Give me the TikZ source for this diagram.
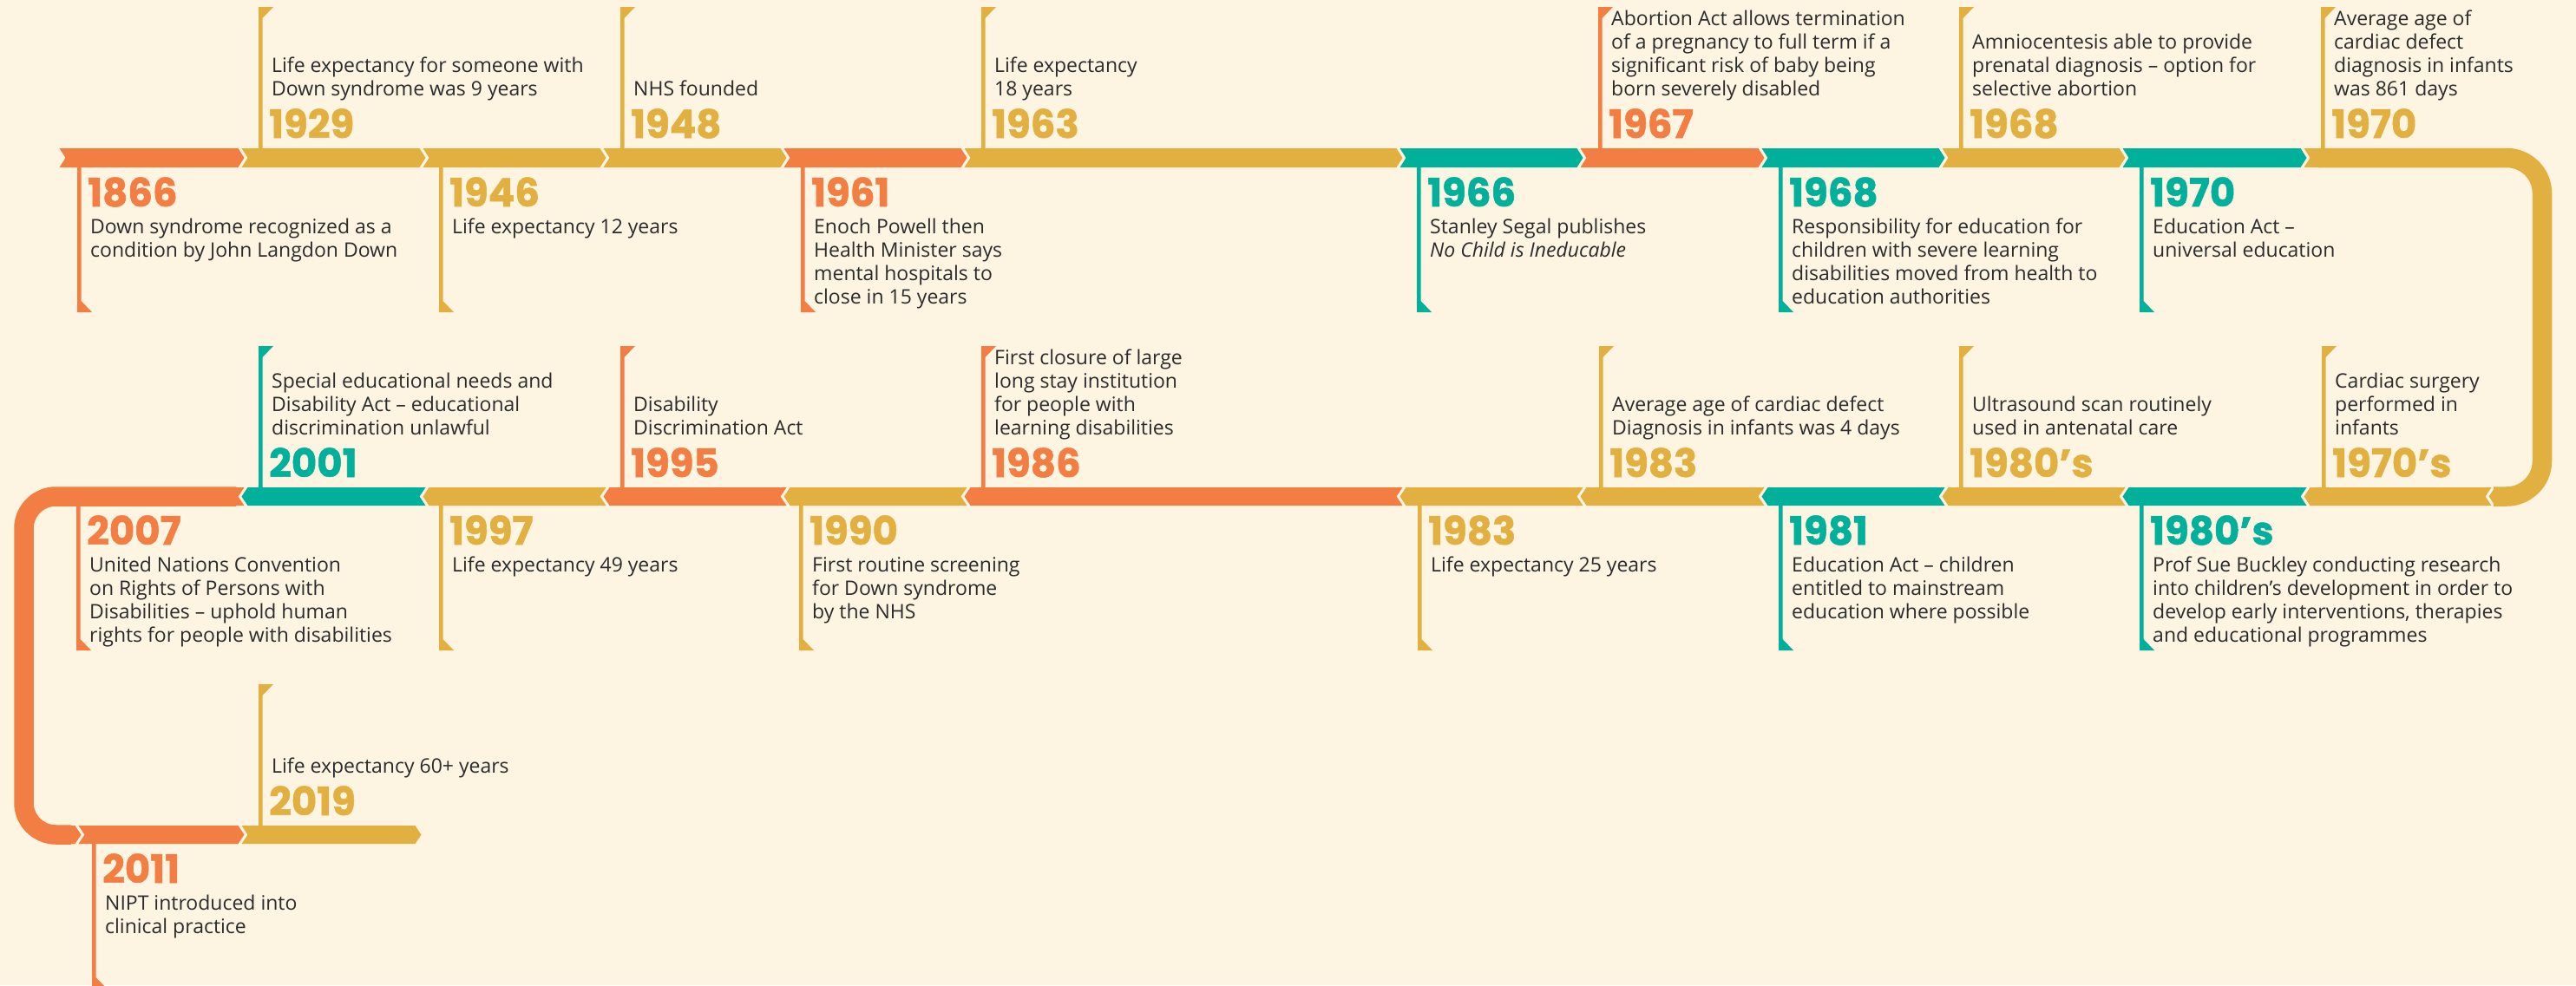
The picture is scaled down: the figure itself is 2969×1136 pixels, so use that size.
\documentclass[tikz,border=0pt]{standalone}
\usepackage{fontspec}
\setmainfont{Open Sans}
\newfontfamily\yearfont{Poppins}[BoldFeatures={FakeBold=1.2}]
\definecolor{bg}{HTML}{FDF4E1}
\definecolor{cor}{HTML}{F37E44}
\definecolor{cye}{HTML}{E2B040}
\definecolor{cte}{HTML}{00B09A}
\definecolor{ctx}{HTML}{2B2B2B}
% right-pointing segment: color, b1, b2, top, bottom
\newcommand\segR[5]{\fill[#1] ({#2+2-3.5},#4) -- ({#3-2-3.5},#4) -- ({#3-2+3.5},{(#4+#5)/2}) -- ({#3-2-3.5},#5) -- ({#2+2-3.5},#5) -- ({#2+2+3.5},{(#4+#5)/2}) -- cycle;}
% left-pointing segment
\newcommand\segL[5]{\fill[#1] ({#2+2+3.5},#4) -- ({#3-2+3.5},#4) -- ({#3-2-3.5},{(#4+#5)/2}) -- ({#3-2+3.5},#5) -- ({#2+2+3.5},#5) -- ({#2+2-3.5},{(#4+#5)/2}) -- cycle;}
% upper event: name, color, stem x, band top, year, description
\newcommand\evU[6]{%
  \fill[#2] (#3,#4) -- (#3,{#4-163}) -- ({#3+17},{#4-163}) -- ({#3+4.5},{#4-150}) -- ({#3+4.5},#4) -- cycle;
  \node[yearlbl,text=#2,anchor=base west] (#1y) at ({#3+12},{#4-12}) {#5};
  \node[desclbl,anchor=base west] (#1d) at ({#3+15},{#4-61}) {\begin{tabular}[b]{@{}l@{}}#6\end{tabular}};
}
% lower event: name, color, stem x, band bottom, year, description
\newcommand\evD[6]{%
  \fill[#2] (#3,#4) -- (#3,{#4+167}) -- ({#3+17},{#4+167}) -- ({#3+4.5},{#4+154}) -- ({#3+4.5},#4) -- cycle;
  \node[yearlbl,text=#2,anchor=base west] (#1y) at ({#3+12},{#4+45}) {#5};
  \node[desclbl,anchor=base west] (#1d) at ({#3+15},{#4+76}) {\begin{tabular}[t]{@{}l@{}}#6\end{tabular}};
}
\tikzset{
  yearlbl/.style={inner sep=0pt, font=\yearfont\bfseries\fontsize{45}{45}\selectfont},
  desclbl/.style={inner sep=0pt, text=ctx, font=\fontsize{23}{27}\selectfont},
}
\begin{document}
\begin{tikzpicture}[x=1pt,y=-1pt]
\fill[bg] (0,0) rectangle (2969,1136);
\useasboundingbox (0,0) rectangle (2969,1136);
% ---------- row 1 ----------
\segR{cor}{70}{280}{171}{193}
\segR{cye}{280}{489}{171}{193}
\segR{cye}{489}{697}{171}{193}
\segR{cye}{697}{905}{171}{193}
\segR{cor}{905}{1113}{171}{193}
\segR{cye}{1113}{1615}{171}{193}
\segR{cte}{1615}{1823}{171}{193}
\segR{cor}{1823}{2032}{171}{193}
\segR{cte}{2032}{2240}{171}{193}
\segR{cye}{2240}{2448}{171}{193}
\segR{cte}{2448}{2657}{171}{193}
% right bend
\fill[cye] (2655.5,171) -- (2676,171) -- (2676,193) -- (2655.5,193) -- (2662.5,182) -- cycle;
\draw[cye,line width=22.5pt,rounded corners=41pt] (2672,182) -- (2930,182) -- (2930,572.5) -- (2874,572.5);
\fill[cye] (2878,562) -- (2875.5,562) -- (2868.5,572.5) -- (2875.5,583) -- (2878,583) -- cycle;
% ---------- row 2 ----------
\segL{cye}{2657}{2870}{562}{583}
\segL{cte}{2448}{2657}{562}{583}
\segL{cye}{2240}{2448}{562}{583}
\segL{cte}{2032}{2240}{562}{583}
\segL{cye}{1823}{2032}{562}{583}
\segL{cye}{1615}{1823}{562}{583}
\segL{cor}{1113}{1615}{562}{583}
\segL{cye}{905}{1113}{562}{583}
\segL{cor}{697}{905}{562}{583}
\segL{cye}{489}{697}{562}{583}
\segL{cte}{280}{489}{562}{583}
% left bend
\fill[cor] (268,562) -- (281.5,562) -- (274.5,572.5) -- (281.5,583) -- (268,583) -- cycle;
\draw[cor,line width=22.5pt,rounded corners=37pt] (272,572.5) -- (27.5,572.5) -- (27.5,962.5) -- (82,962.5);
\fill[cor] (78,952) -- (86.5,952) -- (93.5,962.5) -- (86.5,973) -- (78,973) -- cycle;
% ---------- row 3 ----------
\segR{cor}{92}{280}{952}{973}
\segR{cye}{280}{484}{952}{973}
% ---------- events row 1 ----------
\evD{e1866}{cor}{89}{193}{1866}{Down syndrome recognized as a\\condition by John Langdon Down}
\evU{e1929}{cye}{298}{171}{1929}{Life expectancy for someone with\\Down syndrome was 9 years}
\evD{e1946}{cye}{506}{193}{1946}{Life expectancy 12 years}
\evU{e1948}{cye}{715}{171}{1948}{NHS founded}
\evD{e1961}{cor}{923}{193}{1961}{Enoch Powell then\\Health Minister says\\mental hospitals to\\close in 15 years}
\evU{e1963}{cye}{1131}{171}{1963}{Life expectancy\\18 years}
\evD{e1966}{cte}{1633}{193}{1966}{Stanley Segal publishes\\\textit{No Child is Ineducable}}
\evU{e1967}{cor}{1842}{171}{1967}{Abortion Act allows termination\\of a pregnancy to full term if a\\significant risk of baby being\\born severely disabled}
\evD{e1968a}{cte}{2050}{193}{1968}{Responsibility for education for\\children with severe learning\\disabilities moved from health to\\education authorities}
\evU{e1968b}{cye}{2258}{171}{1968}{Amniocentesis able to provide\\prenatal diagnosis – option for\\selective abortion}
\evD{e1970a}{cte}{2466}{193}{1970}{Education Act –\\universal education}
\evU{e1970b}{cye}{2675}{171}{1970}{Average age of\\cardiac defect\\diagnosis in infants\\was 861 days}
% ---------- events row 2 ----------
\evU{e1970s}{cye}{2676}{562}{1970’s}{Cardiac surgery\\performed in\\infants}
\evD{e1980a}{cte}{2466}{583}{1980’s}{Prof Sue Buckley conducting research\\into children’s development in order to\\develop early interventions, therapies\\and educational programmes}
\evU{e1980b}{cye}{2258}{562}{1980’s}{Ultrasound scan routinely\\used in antenatal care}
\evD{e1981}{cte}{2050}{583}{1981}{Education Act – children\\entitled to mainstream\\education where possible}
\evU{e1983a}{cye}{1843}{562}{1983}{Average age of cardiac defect\\Diagnosis in infants was 4 days}
\evD{e1983b}{cye}{1634}{583}{1983}{Life expectancy 25 years}
\evU{e1986}{cor}{1131}{562}{1986}{First closure of large\\long stay institution\\for people with\\learning disabilities}
\evD{e1990}{cye}{921}{583}{1990}{First routine screening\\for Down syndrome\\by the NHS}
\evU{e1995}{cor}{715}{562}{1995}{Disability\\Discrimination Act}
\evD{e1997}{cye}{506}{583}{1997}{Life expectancy 49 years}
\evU{e2001}{cte}{298}{562}{2001}{Special educational needs and\\Disability Act – educational\\discrimination unlawful}
\evD{e2007}{cor}{88}{583}{2007}{United Nations Convention\\on Rights of Persons with\\Disabilities – uphold human\\rights for people with disabilities}
% ---------- events row 3 ----------
\evD{e2011}{cor}{106}{973}{2011}{NIPT introduced into\\clinical practice}
\evU{e2019}{cye}{298}{952}{2019}{Life expectancy 60+ years}
\end{tikzpicture}
\end{document}
